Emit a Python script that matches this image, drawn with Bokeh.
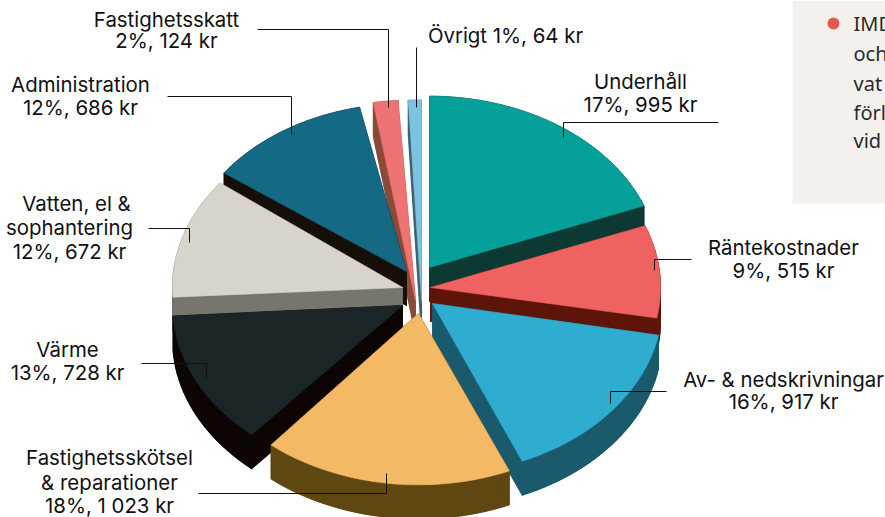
import math
from bokeh.plotting import figure
from bokeh.models import Range1d, ColumnDataSource
from bokeh.core.properties import value
from bokeh.embed import file_html
from bokeh.resources import INLINE

# ---- data ----
categories = ["Underhåll", "Räntekostnader", "Av- & nedskrivningar", "Fastighetsskötsel & reparationer",
              "Värme", "Vatten, el & sophantering", "Administration", "Fastighetsskatt", "Övrigt"]
kronor = [995, 515, 917, 1023, 728, 672, 686, 124, 64]
percent = [17, 9, 16, 18, 13, 12, 12, 2, 1]
kronor_text = ["995", "515", "917", "1 023", "728", "672", "686", "124", "64"]
note_stubs = ["IMD", "och", "vat", "förl", "vid"]

# ---- styling and layout (image pixels) ----
top_colors = ["#05a099", "#ee6362", "#2fadd1", "#f4b964", "#1b2528", "#d9d4cb", "#146a85", "#ee7373", "#7fc2e0"]
wall_colors = ["#0c3a33", "#5c1508", "#1a5a6c", "#5e4711", "#0c0503", "#77766e", "#150f08", "#8a4a3a", "#3d6070"]
# exploded offset of every slice from the pie centre
explode = [(13, -21), (14, -1), (16, 15), (2, 25), (-14, 17), (-14, -1), (-10, -17), (-1, 12), (5, 12)]
# correction of each slice's start and end angle for the picture's perspective
nudge = [(0, 6.3), (6.3, 5.3), (5.7, 4.4), (4.1, 2.9), (4, 3.7), (4, 2.5), (0.9, -0.2), (2.8, 0.3), (1.2, 0)]
radius_scale = [1, 1, 1, 1, 1, 1, 0.98, 1.17, 1.17]
paint_order = [7, 8, 6, 0, 5, 1, 4, 2, 3]
CX, CY, R, TILT, DEPTH = 416, 288, 230, 0.745, 34

W, H = 885, 517
p = figure(width=W, height=H, x_range=Range1d(0, W), y_range=Range1d(H, 0),
           output_backend="svg", toolbar_location=None, min_border=0,
           outline_line_color=None, background_fill_color="white")
p.axis.visible = False
p.grid.visible = False
FONT = value("Inter")

# note panel on the right
p.quad(left=[792], right=[W], top=[0], bottom=[203], fill_color="#f4f1ed", line_color=None)
p.scatter(x=[833], y=[23], size=12, fill_color="#e2594f", line_color=None)
for text, y in zip(note_stubs, [23, 53, 83, 112, 140]):
    p.text(x=[853], y=[y], text=[text], text_font=value("Noto Sans"), text_font_size="20px", text_color="#2a2a2a",
           text_baseline="middle", text_align="left")

# slices, back to front
total = sum(kronor)
starts = [sum(kronor[:i]) / total * 360 for i in range(len(kronor))]
ends = [sum(kronor[:i + 1]) / total * 360 for i in range(len(kronor))]

def slice_outline(i):
    a0 = starts[i] + nudge[i][0]
    a1 = ends[i] + nudge[i][1]
    ox, oy = CX + explode[i][0], CY + explode[i][1]
    r = R * radius_scale[i]
    steps = max(2, int((a1 - a0) / 2))
    xs, ys = [ox], [oy]
    for s in range(steps + 1):
        a = math.radians(a0 + (a1 - a0) * s / steps)
        xs.append(ox + r * math.sin(a))
        ys.append(oy - r * TILT * math.cos(a))
    return xs, ys

px, py, pc = [], [], []
for i in paint_order:
    xs, ys = slice_outline(i)
    n = len(xs)
    for k in range(n):
        m = (k + 1) % n
        px.append([xs[k], xs[m], xs[m], xs[k]])
        py.append([ys[k], ys[m], ys[m] + DEPTH, ys[k] + DEPTH])
        pc.append(wall_colors[i])
    px.append(xs)
    py.append([y + DEPTH for y in ys])
    pc.append(wall_colors[i])
    px.append(xs)
    py.append(ys)
    pc.append(top_colors[i])
p.patches("x", "y", source=ColumnDataSource(dict(x=px, y=py, c=pc)), fill_color="c", line_color="c", line_width=0.6)

# leader lines, same order as the categories
leaders = [
    ([718, 563, 563], [122, 122, 137]),
    ([691, 654, 654], [259, 259, 270]),
    ([666, 610, 610], [391, 391, 403]),
    ([198, 386, 386], [493, 493, 473]),
    ([141, 206, 206], [363, 363, 378]),
    ([148, 189, 189], [228, 228, 242]),
    ([167, 291, 291], [96, 96, 134]),
    ([257, 388, 388], [29, 29, 107]),
    ([416, 416], [47, 107]),
]
p.multi_line([l[0] for l in leaders], [l[1] for l in leaders], line_color="#111111", line_width=1)

# labels
value_text = [f"{a}%, {b} kr" for a, b in zip(percent, kronor_text)]
label_lines = [
    ["Underhåll", value_text[0]],
    ["Räntekostnader", value_text[1]],
    ["Av- & nedskrivningar", value_text[2]],
    ["Fastighetsskötsel", "& reparationer", value_text[3]],
    ["Värme", value_text[4]],
    ["Vatten, el &", "sophantering", value_text[5]],
    ["Administration", value_text[6]],
    ["Fastighetsskatt", value_text[7]],
    [f"Övrigt {percent[8]}%, {kronor_text[8]} kr"],
]
label_x = [[640, 640], [783, 783], [783, 783], [109, 109, 109], [67, 67], [76, 69, 69], [80, 80], [166, 166], [505]]
label_y = [[81, 104], [247, 270], [379, 401], [457, 482, 505], [349, 372], [203, 227, 251], [84, 107], [19, 40], [35]]
for lines, xs_, ys_ in zip(label_lines, label_x, label_y):
    for t, x, y in zip(lines, xs_, ys_):
        p.text(x=[x], y=[y], text=[t], text_font=FONT, text_font_size="20.4px", text_color="#111111",
               text_align="center", text_baseline="middle")

open("out.html", "w").write(file_html(p, INLINE))
